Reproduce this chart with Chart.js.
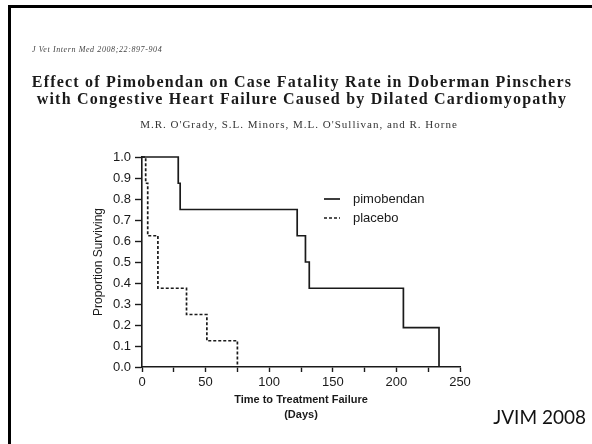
<!DOCTYPE html>
<html>
<head>
<meta charset="utf-8">
<script src="https://cdn.jsdelivr.net/npm/chart.js@4.4.1/dist/chart.umd.min.js"></script>
<style>
    body { margin: 0; background: #fff; }
    #slide { position: relative; width: 592px; height: 444px; overflow: hidden; background: #fff; }
    #frame { position: absolute; left: 8px; top: 5px; right: -10px; bottom: -10px; border-top: 3px solid #000; border-left: 3px solid #000; }
    canvas { position: absolute; left: 0; top: 0; }
    .txt { position: absolute; white-space: nowrap; color: #111; }
    #ref { left: 32px; top: 45px; font: italic 8px "Liberation Serif", serif; letter-spacing: 0.6px; color: #444; }
    #title { left: 0; width: 604px; top: 73px; text-align: center; font: bold 16px/17px "Liberation Serif", serif; letter-spacing: 1.2px; color: #1a1a1a; }
    #authors { left: 0; width: 598px; top: 118px; text-align: center; font: 11px "Liberation Serif", serif; letter-spacing: 1px; color: #333; }
    #jvim { right: 6px; top: 405px; font: 19px Lato, "Open Sans", sans-serif; color: #111; }
</style>
</head>
<body>
<div id="slide">
    <div id="frame"></div>
    <canvas id="km" width="592" height="444"></canvas>
    <div class="txt" id="ref">J Vet Intern Med 2008;22:897-904</div>
    <div class="txt" id="title">Effect of Pimobendan on Case Fatality Rate in Doberman Pinschers<br>with Congestive Heart Failure Caused by Dilated Cardiomyopathy</div>
    <div class="txt" id="authors">M.R. O'Grady, S.L. Minors, M.L. O'Sullivan, and R. Horne</div>
    <div class="txt" id="jvim">JVIM 2008</div>
</div>
<script>
// Kaplan-Meier steps
const pimoDays = [0, 28.5, 30, 122, 128.5, 131.5, 205.5, 233.5];
const pimoSurv = [1, 0.875, 0.75, 0.625, 0.5, 0.375, 0.1875, 0];
const placeboDays = [0, 2.9, 4.5, 12.5, 35, 51, 75];
const placeboSurv = [1, 0.875, 0.625, 0.375, 0.25, 0.125, 0];

const seriesNames = ["pimobendan", "placebo"];
const xTitle = ["Time to Treatment Failure", "(Days)"];
const yTitle = "Proportion Surviving";

const ink = "#1a1a1a";

function toPoints(xs, ys) {
    return xs.map((x, i) => ({ x: x, y: ys[i] }));
}

// draws the little legend inside the plot
const kmLegend = {
    id: "kmLegend",
    afterDatasetsDraw(chart) {
        const ctx = chart.ctx;
        const area = chart.chartArea;
        ctx.save();
        chart.data.datasets.forEach((ds, i) => {
            const y = area.top + 42 + i * 19;
            const x = area.left + 182;
            ctx.strokeStyle = ds.borderColor;
            ctx.lineWidth = ds.borderWidth;
            ctx.setLineDash(ds.borderDash || []);
            ctx.beginPath();
            ctx.moveTo(x, y);
            ctx.lineTo(x + 16, y);
            ctx.stroke();
            ctx.setLineDash([]);
            ctx.fillStyle = ink;
            ctx.font = '13px "Liberation Sans", Arial, sans-serif';
            ctx.textBaseline = "middle";
            ctx.fillText(ds.label, x + 29, y);
        });
        ctx.restore();
    }
};

Chart.defaults.font.family = '"Liberation Sans", Arial, sans-serif';
Chart.defaults.color = ink;

new Chart(document.getElementById("km").getContext("2d"), {
    type: "line",
    data: {
        datasets: [
            {
                label: seriesNames[0],
                data: toPoints(pimoDays, pimoSurv),
                borderColor: ink,
                borderWidth: 1.7,
                stepped: true,
                pointRadius: 0,
                clip: false
            },
            {
                label: seriesNames[1],
                data: toPoints(placeboDays, placeboSurv),
                borderColor: ink,
                borderWidth: 1.7,
                borderDash: [3, 2],
                stepped: true,
                pointRadius: 0,
                clip: false
            }
        ]
    },
    options: {
        responsive: false,
        animation: false,
        layout: { padding: { left: 60, top: 157, right: 132, bottom: 0 } },
        plugins: { legend: { display: false }, tooltip: { enabled: false } },
        scales: {
            x: {
                type: "linear",
                min: 0,
                max: 250,
                afterFit: (s) => { s.height = 77; },
                border: { color: ink, width: 1.6 },
                grid: { drawOnChartArea: false, tickLength: 5, tickColor: ink, tickWidth: 1.4 },
                ticks: {
                    stepSize: 25,
                    padding: 3,
                    font: { size: 13 },
                    maxRotation: 0,
                    callback: (v) => (v % 50 === 0 ? String(v) : "")
                },
                title: {
                    display: true,
                    text: xTitle,
                    font: { size: 11, weight: "bold", lineHeight: 1.36 },
                    padding: { top: 0, bottom: 22 }
                }
            },
            y: {
                min: 0,
                max: 1,
                afterFit: (s) => { s.width = 82; },
                border: { color: ink, width: 1.6 },
                grid: { drawOnChartArea: false, tickLength: 7, tickColor: ink, tickWidth: 1.4 },
                ticks: {
                    stepSize: 0.1,
                    padding: 4,
                    font: { size: 13 },
                    callback: (v) => v.toFixed(1)
                },
                title: {
                    display: true,
                    text: yTitle,
                    font: { size: 12 },
                    padding: { top: 31, bottom: 0 }
                }
            }
        }
    },
    plugins: [kmLegend]
});
</script>
</body>
</html>
